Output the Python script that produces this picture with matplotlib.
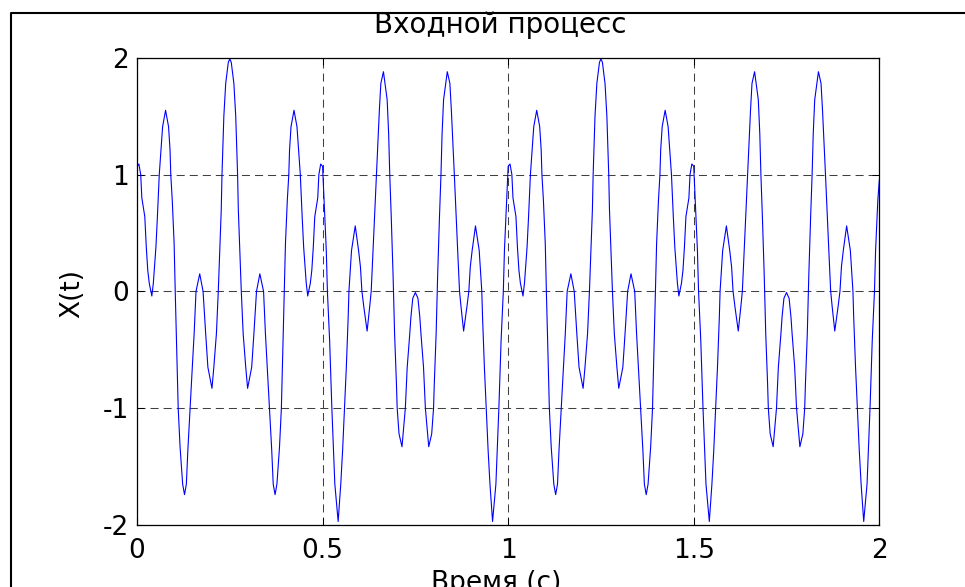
import matplotlib
matplotlib.use("Agg")
import matplotlib.pyplot as plt
from matplotlib.lines import Line2D
import numpy as np

# ---- data ----
time_p1 = [
    0.000, 0.005, 0.010, 0.013, 0.021, 0.025, 0.029, 0.033, 0.040, 0.044,
    0.051, 0.055, 0.060, 0.069, 0.077, 0.085, 0.089, 0.091, 0.095, 0.100,
    0.103, 0.107, 0.111, 0.116, 0.123, 0.128, 0.133, 0.137, 0.143, 0.149,
    0.154, 0.159, 0.169, 0.178, 0.185, 0.191, 0.202, 0.207, 0.214, 0.219,
    0.223, 0.227, 0.229, 0.234, 0.239, 0.246, 0.250,
    0.254, 0.261, 0.266, 0.271, 0.273, 0.277, 0.281, 0.286, 0.293, 0.298,
    0.309, 0.315, 0.322, 0.331, 0.341, 0.346, 0.351, 0.357, 0.363, 0.367,
    0.372, 0.377, 0.384, 0.389, 0.393, 0.397, 0.400, 0.405, 0.409, 0.411,
    0.415, 0.423, 0.431, 0.440, 0.445, 0.449, 0.456, 0.460, 0.467, 0.471,
    0.475, 0.479, 0.487, 0.490, 0.495, 0.500,
    0.504, 0.510, 0.513, 0.519, 0.525, 0.533, 0.542, 0.549, 0.554, 0.559,
    0.564, 0.569, 0.571, 0.578, 0.588, 0.597, 0.602, 0.606, 0.611, 0.620,
    0.627, 0.631, 0.636, 0.642, 0.645, 0.648, 0.653, 0.657, 0.664, 0.674,
    0.678, 0.681, 0.685, 0.690, 0.694, 0.699, 0.701, 0.706, 0.714, 0.723,
    0.728, 0.735, 0.738, 0.743, 0.750,
    0.757, 0.762, 0.765, 0.772, 0.777, 0.786, 0.794, 0.799, 0.801, 0.806,
    0.810, 0.815, 0.819, 0.822, 0.826, 0.836, 0.843, 0.847, 0.852, 0.855,
    0.858, 0.864, 0.869, 0.873, 0.880, 0.889, 0.894, 0.898, 0.903, 0.912,
    0.922, 0.929, 0.931, 0.936, 0.941, 0.946, 0.951, 0.958, 0.967, 0.975,
    0.981, 0.987, 0.990, 0.996,
]
x_p1 = [
    1.07, 1.09, 1.00, 0.80, 0.64, 0.38, 0.18, 0.07, -0.04, 0.07,
    0.38, 0.64, 1.00, 1.41, 1.55, 1.41, 1.21, 1.00, 0.78, 0.41,
    0.00, -0.50, -1.00, -1.33, -1.65, -1.74, -1.65, -1.36, -1.00, -0.65,
    -0.36, 0.00, 0.15, 0.00, -0.36, -0.65, -0.83, -0.65, -0.36, 0.00,
    0.35, 0.70, 1.00, 1.50, 1.78, 1.96, 1.99,
    1.96, 1.78, 1.50, 1.00, 0.70, 0.35, 0.00, -0.36, -0.65, -0.83,
    -0.65, -0.36, 0.00, 0.15, 0.00, -0.36, -0.65, -1.00, -1.36, -1.65,
    -1.74, -1.65, -1.33, -1.00, -0.50, 0.00, 0.41, 0.78, 1.00, 1.21,
    1.41, 1.55, 1.41, 1.00, 0.64, 0.38, 0.07, -0.04, 0.07, 0.18,
    0.38, 0.64, 0.80, 1.00, 1.09, 1.07,
    0.78, 0.35, 0.00, -0.42, -1.00, -1.65, -1.97, -1.65, -1.36, -1.00,
    -0.65, -0.22, 0.00, 0.35, 0.56, 0.35, 0.21, 0.00, -0.13, -0.34,
    -0.13, 0.00, 0.35, 0.78, 1.00, 1.21, 1.55, 1.78, 1.88, 1.64,
    1.35, 1.00, 0.64, 0.13, -0.36, -0.79, -1.00, -1.22, -1.33, -1.00,
    -0.65, -0.36, -0.22, -0.06, -0.01,
    -0.06, -0.22, -0.36, -0.65, -1.00, -1.33, -1.22, -1.00, -0.79, -0.36,
    0.13, 0.64, 1.00, 1.35, 1.64, 1.88, 1.78, 1.55, 1.21, 1.00,
    0.78, 0.35, 0.00, -0.13, -0.34, -0.13, 0.00, 0.21, 0.35, 0.56,
    0.35, 0.00, -0.22, -0.65, -1.00, -1.36, -1.65, -1.97, -1.65, -1.00,
    -0.42, 0.00, 0.35, 0.78,
]
time_p2 = [
    1.000, 1.005, 1.010, 1.013, 1.021, 1.025, 1.029, 1.033, 1.040, 1.044,
    1.051, 1.055, 1.060, 1.069, 1.077, 1.085, 1.089, 1.091, 1.095, 1.100,
    1.103, 1.107, 1.111, 1.116, 1.123, 1.128, 1.133, 1.137, 1.143, 1.149,
    1.154, 1.159, 1.169, 1.178, 1.185, 1.191, 1.202, 1.207, 1.214, 1.219,
    1.223, 1.227, 1.229, 1.234, 1.239, 1.246, 1.250,
    1.254, 1.261, 1.266, 1.271, 1.273, 1.277, 1.281, 1.286, 1.293, 1.298,
    1.309, 1.315, 1.322, 1.331, 1.341, 1.346, 1.351, 1.357, 1.363, 1.367,
    1.372, 1.377, 1.384, 1.389, 1.393, 1.397, 1.400, 1.405, 1.409, 1.411,
    1.415, 1.423, 1.431, 1.440, 1.445, 1.449, 1.456, 1.460, 1.467, 1.471,
    1.475, 1.479, 1.487, 1.490, 1.495, 1.500,
    1.504, 1.510, 1.513, 1.519, 1.525, 1.533, 1.542, 1.549, 1.554, 1.559,
    1.564, 1.569, 1.571, 1.578, 1.588, 1.597, 1.602, 1.606, 1.611, 1.620,
    1.627, 1.631, 1.636, 1.642, 1.645, 1.648, 1.653, 1.657, 1.664, 1.674,
    1.678, 1.681, 1.685, 1.690, 1.694, 1.699, 1.701, 1.706, 1.714, 1.723,
    1.728, 1.735, 1.738, 1.743, 1.750,
    1.757, 1.762, 1.765, 1.772, 1.777, 1.786, 1.794, 1.799, 1.801, 1.806,
    1.810, 1.815, 1.819, 1.822, 1.826, 1.836, 1.843, 1.847, 1.852, 1.855,
    1.858, 1.864, 1.869, 1.873, 1.880, 1.889, 1.894, 1.898, 1.903, 1.912,
    1.922, 1.929, 1.931, 1.936, 1.941, 1.946, 1.951, 1.958, 1.967, 1.975,
    1.981, 1.987, 1.990, 1.996, 2.000,
]
x_p2 = [
    1.07, 1.09, 1.00, 0.80, 0.64, 0.38, 0.18, 0.07, -0.04, 0.07,
    0.38, 0.64, 1.00, 1.41, 1.55, 1.41, 1.21, 1.00, 0.78, 0.41,
    0.00, -0.50, -1.00, -1.33, -1.65, -1.74, -1.65, -1.36, -1.00, -0.65,
    -0.36, 0.00, 0.15, 0.00, -0.36, -0.65, -0.83, -0.65, -0.36, 0.00,
    0.35, 0.70, 1.00, 1.50, 1.78, 1.96, 1.99,
    1.96, 1.78, 1.50, 1.00, 0.70, 0.35, 0.00, -0.36, -0.65, -0.83,
    -0.65, -0.36, 0.00, 0.15, 0.00, -0.36, -0.65, -1.00, -1.36, -1.65,
    -1.74, -1.65, -1.33, -1.00, -0.50, 0.00, 0.41, 0.78, 1.00, 1.21,
    1.41, 1.55, 1.41, 1.00, 0.64, 0.38, 0.07, -0.04, 0.07, 0.18,
    0.38, 0.64, 0.80, 1.00, 1.09, 1.07,
    0.78, 0.35, 0.00, -0.42, -1.00, -1.65, -1.97, -1.65, -1.36, -1.00,
    -0.65, -0.22, 0.00, 0.35, 0.56, 0.35, 0.21, 0.00, -0.13, -0.34,
    -0.13, 0.00, 0.35, 0.78, 1.00, 1.21, 1.55, 1.78, 1.88, 1.64,
    1.35, 1.00, 0.64, 0.13, -0.36, -0.79, -1.00, -1.22, -1.33, -1.00,
    -0.65, -0.36, -0.22, -0.06, -0.01,
    -0.06, -0.22, -0.36, -0.65, -1.00, -1.33, -1.22, -1.00, -0.79, -0.36,
    0.13, 0.64, 1.00, 1.35, 1.64, 1.88, 1.78, 1.55, 1.21, 1.00,
    0.78, 0.35, 0.00, -0.13, -0.34, -0.13, 0.00, 0.21, 0.35, 0.56,
    0.35, 0.00, -0.22, -0.65, -1.00, -1.36, -1.65, -1.97, -1.65, -1.00,
    -0.42, 0.00, 0.35, 0.78, 0.95,
]
x_ticks = [0, 0.5, 1, 1.5, 2]
x_tick_labels = ["0", "0.5", "1", "1.5", "2"]
y_ticks = [-2, -1, 0, 1, 2]
y_tick_labels = ["-2", "-1", "0", "1", "2"]
title_text = "Входной процесс"
x_label = "Время (с)"
y_label = "X(t)"

# ---- drawing ----
plt.rcParams["font.family"] = ["DejaVu Sans"]
plt.rcParams["axes.unicode_minus"] = False
plt.rcParams["lines.scale_dashes"] = False

W, H = 965, 587
fig = plt.figure(figsize=(W / 100, H / 100), dpi=100)
L, R, T, B = 137, 879.3, 57.7, 525
ax = fig.add_axes([L / W, 1 - B / H, (R - L) / W, (B - T) / H])

t_all = np.concatenate([time_p1, time_p2])
x_all = np.concatenate([x_p1, x_p2])
ax.plot(t_all, x_all, color=(0, 0, 1), lw=0.8)

ax.set_xlim(0, 2)
ax.set_ylim(-2, 2)
ax.set_xticks(x_ticks)
ax.set_xticklabels(x_tick_labels)
ax.set_yticks(y_ticks)
ax.set_yticklabels(y_tick_labels)

ax.grid(True, color="#404040", linestyle=(0, (5.8, 3.6)), linewidth=0.75)
ax.tick_params(direction="in", length=5, width=0.75, top=True, right=True,
               labelsize=19, colors="black")
ax.tick_params(axis="x", pad=9)
ax.tick_params(axis="y", pad=6)
for sp in ax.spines.values():
    sp.set_linewidth(0.9)
    sp.set_color("black")

ax.set_title(title_text, fontsize=20, pad=17.8)
ax.title.set_x((500 - L) / (R - L))

ax.set_xlabel(x_label, fontsize=19)
ax.xaxis.set_label_coords((496 - L) / (R - L), (B - 570) / (B - T))
ax.set_ylabel(y_label, fontsize=19)
ax.yaxis.set_label_coords((85 - L) / (R - L), (B - 293) / (B - T))

# outer frame (cropped figure border)
fig.add_artist(Line2D([11 / W, 11 / W, 1.02], [-0.02, 1 - 13 / H, 1 - 13 / H],
                      transform=fig.transFigure, color="black", lw=1.5))

fig.savefig("out.png", dpi=100)
